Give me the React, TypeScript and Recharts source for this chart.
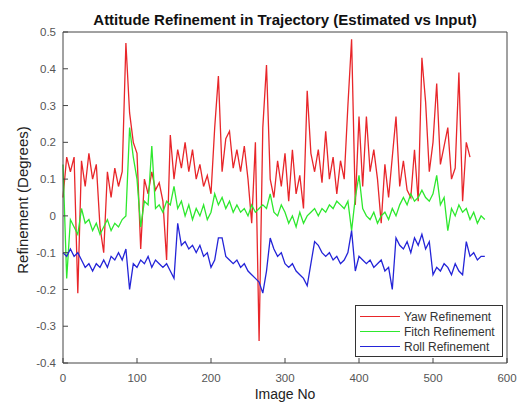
import { LineChart, Line, XAxis, YAxis, Legend } from 'recharts'

const STEP = 5

const yaw = [
  0.05, 0.16, 0.12, 0.16, -0.21, 0.15, 0.08, 0.17, 0.1, 0.14,
  -0.03, -0.1, 0.12, 0.05, 0.13, 0.08, 0.12, 0.47, 0.28, 0.2,
  0.17, -0.09, 0.1, 0.06, 0.12, 0.07, 0.09, 0.04, -0.12, 0.22,
  0.1, 0.18, 0.13, 0.2, 0.12, 0.18, 0.1, 0.14, 0.08, 0.11,
  0.06, 0.24, 0.38, 0.12, 0.21, 0.23, 0.13, 0.18, 0.12, 0.19,
  0.1, -0.02, 0.2, -0.34, 0.24, 0.41, 0.1, 0.05, 0.15, 0.08,
  0.17, 0.04, 0.18, 0.06, 0.11, 0.02, 0.34, 0.17, 0.12, 0.18,
  0.09, 0.23, 0.1, 0.16, 0.06, 0.15, 0.1, 0.3, 0.48, 0.03,
  0.27, 0.08, 0.27, 0.12, 0.18, 0.1, -0.02, 0.14, 0.05, 0.16,
  0.27, 0.08, 0.15, 0.07, 0.05, 0.18, 0.04, 0.43, 0.31, 0.12,
  0.2, 0.36, 0.14, 0.19, 0.24, 0.1, 0.13, 0.39, 0.04, 0.2,
  0.16,
]

const pitch = [
  0.14, -0.17, -0.01, -0.03, -0.05, 0.02, -0.02, -0.01, -0.04, -0.02,
  -0.05, -0.03, -0.01, -0.04, -0.02, -0.03, -0.01, 0.0, 0.24, 0.16,
  0.1, -0.03, 0.04, 0.03, 0.19, 0.02, 0.03, 0.01, 0.04, 0.03,
  0.08, 0.02, 0.04, 0.0, 0.03, -0.01, 0.02, 0.0, 0.03, -0.01,
  0.01, 0.06, 0.03, 0.05, 0.02, 0.04, 0.01, 0.03, 0.01, 0.02,
  0.0, 0.03, 0.01, 0.02, 0.03, 0.02, 0.06, 0.01, 0.0, 0.03,
  0.01, -0.02, 0.0, -0.03, 0.01, -0.02, 0.0, 0.01, 0.02, 0.0,
  0.02, 0.01, 0.03, 0.02, 0.04, 0.03, 0.02, 0.04, -0.04, 0.05,
  0.11, 0.02, 0.0, -0.01, 0.01, -0.02, 0.0, 0.01, -0.01, 0.02,
  0.0, 0.03, 0.05, 0.03, 0.06, 0.04, 0.05, 0.07, 0.05, 0.04,
  0.06, 0.11, 0.03, 0.05, -0.04, 0.02, 0.0, 0.03, 0.01, 0.02,
  -0.01, 0.01, -0.02, 0.0, -0.01,
]

const roll = [
  -0.1, -0.11, -0.09, -0.11, -0.1, -0.12, -0.14, -0.13, -0.15, -0.13,
  -0.14, -0.12, -0.14, -0.11, -0.12, -0.1, -0.12, -0.09, -0.2, -0.13,
  -0.14, -0.12, -0.13, -0.11, -0.14, -0.12, -0.13, -0.14, -0.13, -0.15,
  -0.17, -0.02, -0.08, -0.07, -0.09, -0.08, -0.1, -0.08, -0.11, -0.1,
  -0.14, -0.12, -0.06, -0.06, -0.11, -0.12, -0.13, -0.12, -0.14, -0.13,
  -0.15, -0.16, -0.17, -0.18, -0.21, -0.15, -0.06, -0.09, -0.11, -0.1,
  -0.13, -0.14, -0.13, -0.15, -0.16, -0.17, -0.19, -0.13, -0.07, -0.08,
  -0.1, -0.11, -0.1, -0.12, -0.11, -0.13, -0.12, -0.1, -0.04, -0.15,
  -0.11, -0.12, -0.13, -0.12, -0.14, -0.13, -0.12, -0.15, -0.14, -0.2,
  -0.06, -0.08, -0.09, -0.07, -0.1, -0.06, -0.08, -0.05, -0.09, -0.07,
  -0.16, -0.14, -0.15, -0.13, -0.14, -0.16, -0.13, -0.15, -0.16, -0.07,
  -0.11, -0.1, -0.12, -0.11, -0.11,
]

const xTicks = [0, 100, 200, 300, 400, 500, 600]
const yTicks = [-0.4, -0.3, -0.2, -0.1, 0, 0.1, 0.2, 0.3, 0.4, 0.5]

const seriesNames = ['Yaw Refinement', 'Fitch Refinement', 'Roll Refinement']
const seriesColors = ['#e8262a', '#2ee82e', '#2424d8']

const data = pitch.map((p, i) => ({
  n: i * STEP,
  yaw: i < yaw.length ? yaw[i] : null,
  pitch: p,
  roll: roll[i],
}))

const font = '"Liberation Sans", Arial, sans-serif'

function LegendBox() {
  return (
    <div
      style={{
        border: '1px solid #333',
        background: '#fff',
        width: 146,
        padding: '3px 0 2px 0',
        fontFamily: font,
        fontSize: 12,
        color: '#333',
      }}
    >
      {seriesNames.map((name, i) => (
        <div key={name} style={{ display: 'flex', alignItems: 'center', height: 15 }}>
          <span style={{ display: 'inline-block', width: 40, height: 1, background: seriesColors[i], margin: '0 4px 0 4px' }} />
          <span>{name}</span>
        </div>
      ))}
    </div>
  )
}

export default function App() {
  return (
    <div style={{ position: 'absolute', left: 0, top: 0, width: 527, height: 404, background: '#fff', overflow: 'hidden' }}>
      <LineChart width={527} height={404} data={data} margin={{ top: 31, right: 19, left: 0, bottom: 0 }}>
        <XAxis
          dataKey="n" type="number" domain={[0, 600]} ticks={xTicks} interval={0}
          height={41} tickSize={-5} tickMargin={16} stroke="#444"
          tick={{ fill: '#555', fontSize: 11.5, fontFamily: font }}
          label={{ value: 'Image No', position: 'insideBottom', offset: 5, fill: '#222', fontSize: 14, fontFamily: font }}
        />
        <XAxis
          xAxisId="top" orientation="top" dataKey="n" type="number" domain={[0, 600]}
          ticks={xTicks} interval={0} height={1} tickSize={-5} tick={false} stroke="#444" allowDataOverflow
        />
        <YAxis
          type="number" domain={[-0.4, 0.5]} ticks={yTicks} interval={0} width={63}
          tickSize={-5} tickMargin={12} stroke="#444"
          tick={{ fill: '#555', fontSize: 11.5, fontFamily: font }}
          tickFormatter={(v: number) => String(v)}
        />
        <YAxis
          yAxisId="right" orientation="right" type="number" domain={[-0.4, 0.5]} ticks={yTicks}
          interval={0} width={1} tickSize={-5} tick={false} stroke="#444" allowDataOverflow
        />
        <Legend
          layout="vertical" align="center" verticalAlign="middle"
          wrapperStyle={{ position: 'absolute', left: 355, top: 305, width: 148 }}
          content={() => <LegendBox />}
        />
        <Line dataKey="yaw" stroke={seriesColors[0]} strokeWidth={1.3} dot={false} isAnimationActive={false} />
        <Line dataKey="pitch" stroke={seriesColors[1]} strokeWidth={1.3} dot={false} isAnimationActive={false} />
        <Line dataKey="roll" stroke={seriesColors[2]} strokeWidth={1.3} dot={false} isAnimationActive={false} />
      </LineChart>
      <div
        style={{
          position: 'absolute', left: 63, width: 444, top: 11, textAlign: 'center',
          fontFamily: font, fontSize: 15, fontWeight: 'bold', color: '#111',
        }}
      >
        Attitude Refinement in Trajectory (Estimated vs Input)
      </div>
      <div
        style={{
          position: 'absolute', left: 22, top: 200, transform: 'translate(-50%, -50%) rotate(-90deg)',
          whiteSpace: 'nowrap', fontFamily: font, fontSize: 15, color: '#222',
        }}
      >
        Refinement (Degrees)
      </div>
    </div>
  )
}
